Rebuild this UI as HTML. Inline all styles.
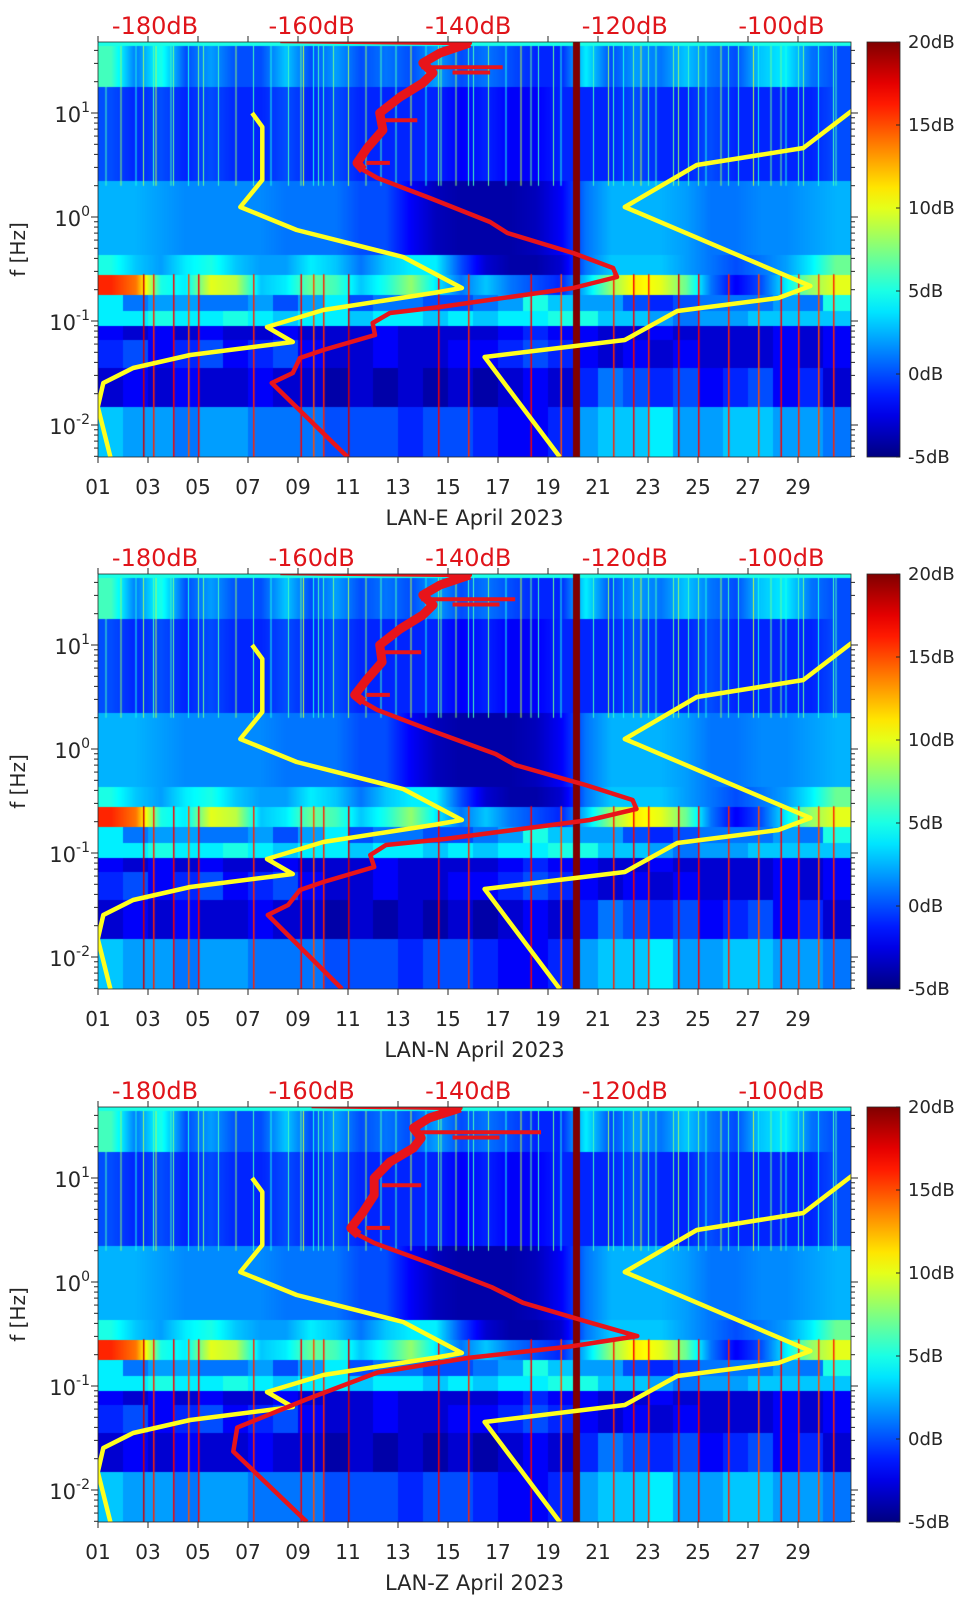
<!DOCTYPE html>
<html>
<head>
<meta charset="utf-8">
<style>
html,body{margin:0;padding:0;background:#fff;}
#root{position:relative;width:962px;height:1599px;overflow:hidden;background:#fff;font-family:"DejaVu Sans","Liberation Sans",sans-serif;}
canvas,svg{position:absolute;display:block;}
</style>
</head>
<body>
<div id="root"></div>
<script>
// ---------- data ----------
const panelTitles = ["LAN-E April 2023", "LAN-N April 2023", "LAN-Z April 2023"];
const dayTickLabels = ["01","03","05","07","09","11","13","15","17","19","21","23","25","27","29"];
const dayTickValues = [1,3,5,7,9,11,13,15,17,19,21,23,25,27,29];
const dbTickValues = [-180,-160,-140,-120,-100];
const dbTickLabels = ["-180dB","-160dB","-140dB","-120dB","-100dB"];
const freqTickExps = [1,0,-1,-2];
const cbTickValues = [20,15,10,5,0,-5];
const cbTickLabels = ["20dB","15dB","10dB","5dB","0dB","-5dB"];

// noise models (dB, log10 f)
const nlnmDb = [-167.6,-166.3,-166.3,-169.1,-161.9,-148.3,-140.8,-144.5,-158.5,-165.7,-162.4,-175.5,-182.8,-186.6,-187.3,-185.7];
const nlnmLf = [1.0,0.865,0.356,0.096,-0.125,-0.385,-0.683,-0.731,-0.894,-1.058,-1.202,-1.327,-1.452,-1.596,-1.827,-2.308];
const nhnmDb = [-128.3,-137.9,-120.0,-113.3,-100.4,-96.3,-120.0,-110.8,-97.2,-91.2,-87.4];
const nhnmLf = [-2.308,-1.346,-1.183,-0.904,-0.779,-0.663,0.096,0.5,0.663,1.01,1.22];

// station PSD curves (dB, log10 f)
const redDbE = [-155.4,-165.1,-162.4,-161.5,-158.5,-151.9,-152.2,-150.0,-143.6,-126.6,-121.0,-121.5,-126.6,-135.0,-137.2,-144.9,-151.6,-153.4,-154.2,-152.9,-150.9,-151.3,-148.7,-145.8,-144.5,-145.8,-143.6,-139.8,-164.0];
const redLfE = [-2.308,-1.596,-1.5,-1.356,-1.279,-1.135,-1.019,-0.923,-0.865,-0.683,-0.577,-0.49,-0.346,-0.154,-0.048,0.183,0.375,0.452,0.519,0.663,0.837,1.0,1.154,1.288,1.385,1.481,1.577,1.673,1.692];
const redDbN = [-156.1,-165.6,-163.0,-161.5,-158.5,-152.0,-152.5,-150.5,-143.0,-124.5,-118.5,-119.0,-125.0,-134.0,-136.5,-144.9,-151.6,-153.4,-154.5,-153.0,-151.0,-151.3,-148.7,-145.8,-144.5,-145.8,-143.6,-139.8,-164.0];
const redLfN = [-2.308,-1.596,-1.5,-1.356,-1.279,-1.135,-1.019,-0.923,-0.865,-0.683,-0.577,-0.49,-0.346,-0.154,-0.048,0.183,0.375,0.452,0.519,0.663,0.837,1.0,1.154,1.288,1.385,1.481,1.577,1.673,1.692];
const redDbZ = [-160.6,-170.0,-169.5,-160.7,-151.6,-140.0,-127.0,-118.4,-124.0,-133.0,-137.0,-145.0,-152.0,-154.0,-155.0,-153.5,-152.0,-152.0,-150.0,-147.0,-146.0,-147.0,-145.0,-141.0,-160.0];
const redLfZ = [-2.308,-1.63,-1.4,-1.13,-0.87,-0.73,-0.62,-0.52,-0.40,-0.2,-0.05,0.183,0.375,0.452,0.519,0.663,0.837,1.0,1.154,1.288,1.385,1.481,1.577,1.673,1.692];
const spikeLf = [1.44,1.39,0.93,0.52];
const spikeDbStart = [-146,-142,-151,-153];
const spikeDbEndE = [-135.6,-137.2,-146.5,-150.0];
const spikeDbEndN = [-134.0,-136.0,-146.0,-150.0];
const spikeDbEndZ = [-130.7,-136.0,-146.0,-150.0];

// spectrogram levels (dB) per day 1..30 for each frequency band group
const lvTop  = [5,5,5,5,5,5,5,5,5,5,5,5,5,5,5,5,5,5,5,5,5,5,5,5,5,5,5,5,5,5];
const lvHfTop= [6,1,5,0,2,0,0,3,0,2,0,1,0,2,0,1,0,-1,-1,4,0,2,1,3,1,0,3,4,1,0];
const lvHf   = [0,-1,0,-1,0,-1,-1,0,-1,0,-1,-1,-1,-1,-2,-1,-2,-2,-1,-1,-1,0,-1,-1,0,-1,-1,-1,-1,0];
const lvMid  = [2.5,2.5,2,1.5,1.5,1.5,1.5,1,1,1,0,0,-2,-3.5,-4,-4,-4,-3.5,-2,1,2.5,2.5,2.5,2,1,1,1.5,1.5,2,2.5];
const lvMs1  = [5,3,2,4,5,3,2,2,4,3,1,3,4,4,0,-3,-4,-4,-3,1,3,3,3,2,1,0,1,2,4,7];
const lvMs2  = [16,14,5,4,10,9,3,4,7,6,3,5,8,4,1,3,1,0,-1,3,8,11,10,7,1,-2,0,4,8,10];
const lvBandA= [4,1,2,2,1,1,2,0,2,4,0,1,1,0,0,1,2,5,3,2,2,0,-1,0,1,1,1,2,1,5];
const lvBandB= [4,4,5,4,4,5,4,3,4,4,3,4,4,3,4,3,4,4,5,5,3,3,2,1,2,2,3,3,3,3];
const lvBandC= [-2,-3,-2,-3,-2,-3,-3,-2,-3,-3,-3,-2,-3,-3,-3,-3,-2,-1,-2,-2,-3,-3,-2,-3,-3,-3,-3,-2,-3,-2];
const lvLf1  = [-1,0,-2,-1,0,-2,-1,0,-2,-3,-3,-2,-3,-3,-2,-2,-1,0,-1,-2,-3,-2,-3,-2,-3,-3,-3,-2,-3,-2];
const lvLf2  = [-3,-2,-3,-2,-3,-3,-2,-3,-3,-4,-3,-4,-3,-4,-3,-4,-3,-2,-3,-1,1,0,-1,0,-2,-1,0,-2,-1,-3];
const lvVlf  = [3,2,2,1,2,2,1,1,1,0,0,0,-1,0,0,-1,-2,-2,-1,2,3,3,4,2,2,3,3,2,2,1];
const bandTopLf = [1.69,1.64,1.25,0.35,-0.37,-0.56,-0.75,-0.9,-1.05,-1.18,-1.45,-1.83];
const bandBotLf = [1.64,1.25,0.35,-0.37,-0.56,-0.75,-0.9,-1.05,-1.18,-1.45,-1.83,-2.32];
const bandLevels = [lvTop,lvHfTop,lvHf,lvMid,lvMs1,lvMs2,lvBandA,lvBandB,lvBandC,lvLf1,lvLf2,lvVlf];
const bandSmooth = [0,1,1,1,1,1,0,0,0,0,0,0];

// transient streaks (day positions, dB)
const hfStreakDays = [1.3,1.9,2.5,3.3,3.9,4.6,5.2,5.8,6.5,7.2,7.9,8.6,9.2,9.8,10.4,11.0,11.7,12.3,12.9,13.5,14.1,14.7,15.3,16.0,16.6,17.3,17.9,18.6,19.2,20.8,21.4,22.0,22.7,23.3,24.0,24.6,25.3,25.9,26.6,27.2,27.9,28.5,29.2,29.8,30.5];
const hfStreakVals = [6,8,5,9,6,5,7,6,8,10,5,6,9,6,7,5,8,6,6,9,5,7,8,6,7,5,9,6,7,6,8,5,9,6,7,6,5,8,6,9,7,5,7,8,6];
const quakeDays = [2.8,3.2,4.0,4.6,5.0,7.2,9.1,9.6,10.0,11.0,14.6,15.8,18.3,19.5,21.6,22.4,23.0,24.2,25.0,26.2,27.4,28.3,29.0,29.8,30.4];
const quakeVals = [18,16,17,15,17,16,17,15,16,18,17,16,17,15,16,17,16,18,17,16,15,17,16,15,16];
const gapDay = 20.0;
const gapVal = 20;

// ---------- layout & scales ----------
const PX0 = 98, PX1 = 851, PY0 = 42, PY1 = 457;
const panelOffsets = [0, 532, 1065];
function xDay(d){ return PX0 + (d - 1) * 25; }
function yLf(lf){ return 217 - 104 * lf; }
function xDb(db){ return 155 + (db + 180) * 7.83; }
function cbY(v){ return PY1 - (v + 5) / 25 * (PY1 - PY0); }
function jet(v){
  let t = (v + 5) / 25; t = Math.max(0, Math.min(1, t));
  const c = x => Math.round(255 * Math.max(0, Math.min(1, x)));
  return "rgb(" + c(1.5 - Math.abs(4*t - 3)) + "," + c(1.5 - Math.abs(4*t - 2)) + "," + c(1.5 - Math.abs(4*t - 1)) + ")";
}
const NS = "http://www.w3.org/2000/svg";
const root = document.getElementById("root");

function levelAt(arr, smooth, day){
  if (!smooth) { const i = Math.max(0, Math.min(29, Math.floor(day - 1))); return arr[i]; }
  let u = day - 1.5; const i0 = Math.max(0, Math.min(29, Math.floor(u))); const i1 = Math.min(29, i0 + 1);
  let f = Math.max(0, Math.min(1, u - Math.floor(u))); if (u < 0) f = 0;
  return arr[i0] * (1 - f) + arr[i1] * f;
}

function drawHeat(off){
  const cv = document.createElement("canvas");
  
  
  const W = PX1 - PX0, H = PY1 - PY0;
  cv.width = W; cv.height = H;
  cv.style.left = PX0 + "px"; cv.style.top = (PY0 + off) + "px";
  cv.style.width = W + "px"; cv.style.height = H + "px";
  const ctx = cv.getContext("2d");
  for (let b = 0; b < bandLevels.length; b++) {
    const y0 = Math.max(0, Math.round(yLf(bandTopLf[b]) - PY0));
    const y1 = Math.min(H, Math.round(yLf(bandBotLf[b]) - PY0));
    for (let px = 0; px < W; px++) {
      const day = 1 + px / 25;
      ctx.fillStyle = jet(levelAt(bandLevels[b], bandSmooth[b], day));
      ctx.fillRect(px, y0, 1, y1 - y0);
    }
  }
  // HF streaks
  const yHfEnd = yLf(0.3) - PY0;
  for (let i = 0; i < hfStreakDays.length; i++) {
    const x = xDay(hfStreakDays[i]) - PX0;
    ctx.fillStyle = jet(hfStreakVals[i]);
    ctx.fillRect(x, 4, 1, yHfEnd - 4);
  }
  // earthquake streaks
  const yQ0 = yLf(-0.55) - PY0;
  for (let i = 0; i < quakeDays.length; i++) {
    const x = xDay(quakeDays[i]) - PX0;
    ctx.fillStyle = jet(quakeVals[i]);
    ctx.fillRect(x, yQ0, 1.5, H - yQ0);
    ctx.fillStyle = jet(quakeVals[i] - 10);
    ctx.fillRect(x, 4, 1, yHfEnd - 4);
  }
  // data gap / artefact band
  ctx.fillStyle = jet(gapVal);
  ctx.fillRect(xDay(gapDay) - PX0, 0, 7, H);
  root.appendChild(cv);
}

function mk(tag, parent){ const e = document.createElementNS(NS, tag); parent.appendChild(e); return e; }
function pts(dbs, lfs){ return dbs.map((d, i) => xDb(d).toFixed(1) + "," + yLf(lfs[i]).toFixed(1)).join(" "); }

function drawPanel(p){
  const off = panelOffsets[p];
  drawHeat(off);
  const svg = document.createElementNS(NS, "svg");
  
  
  svg.setAttribute("width", 962); svg.setAttribute("height", 532);
  svg.style.left = "0px"; svg.style.top = off + "px";
  root.appendChild(svg);
  const defs = mk("defs", svg);
  const cp = mk("clipPath", defs); cp.setAttribute("id", "clip" + p);
  const cr = mk("rect", cp);
  cr.setAttribute("x", PX0); cr.setAttribute("y", PY0); cr.setAttribute("width", PX1 - PX0); cr.setAttribute("height", PY1 - PY0);
  const g = mk("g", svg); g.setAttribute("clip-path", "url(#clip" + p + ")");
  
  

  const nl = mk("polyline", g);
  
  
  nl.setAttribute("points", pts(nlnmDb, nlnmLf));
  nl.setAttribute("fill", "none"); nl.setAttribute("stroke", "#ffff1e"); nl.setAttribute("stroke-width", "4.5"); nl.setAttribute("stroke-linejoin", "round");
  const nh = mk("polyline", g);
  
  
  nh.setAttribute("points", pts(nhnmDb, nhnmLf));
  nh.setAttribute("fill", "none"); nh.setAttribute("stroke", "#ffff1e"); nh.setAttribute("stroke-width", "4.5"); nh.setAttribute("stroke-linejoin", "round");

  const rdb = [redDbE, redDbN, redDbZ][p], rlf = [redLfE, redLfN, redLfZ][p];
  const sEnd = [spikeDbEndE, spikeDbEndN, spikeDbEndZ][p];
  const rc = mk("polyline", g);
  
  
  rc.setAttribute("points", pts(rdb, rlf));
  rc.setAttribute("fill", "none"); rc.setAttribute("stroke", "#e8141a"); rc.setAttribute("stroke-width", "4.5"); rc.setAttribute("stroke-linejoin", "round");
  const hiDb = [], hiLf = [];
  for (let i = 0; i < rdb.length - 1; i++) { if (rlf[i] >= 0.45) { hiDb.push(rdb[i]); hiLf.push(rlf[i]); } }
  const rh = mk("polyline", g);
  
  
  rh.setAttribute("points", pts(hiDb, hiLf));
  rh.setAttribute("fill", "none"); rh.setAttribute("stroke", "#e8141a"); rh.setAttribute("stroke-width", "9"); rh.setAttribute("stroke-linejoin", "round");
  for (let i = 0; i < spikeLf.length; i++) {
    const s = mk("line", g);
    
    
    s.setAttribute("x1", xDb(spikeDbStart[i])); s.setAttribute("x2", xDb(sEnd[i]));
    s.setAttribute("y1", yLf(spikeLf[i])); s.setAttribute("y2", yLf(spikeLf[i]));
    s.setAttribute("stroke", "#e8141a"); s.setAttribute("stroke-width", "4");
  }

  // axes box
  const box = mk("rect", svg);
  
  
  box.setAttribute("x", PX0); box.setAttribute("y", PY0); box.setAttribute("width", PX1 - PX0); box.setAttribute("height", PY1 - PY0);
  box.setAttribute("fill", "none"); box.setAttribute("stroke", "#262626"); box.setAttribute("stroke-width", "0.8");

  // x ticks + labels
  for (let i = 0; i < dayTickValues.length; i++) {
    const x = xDay(dayTickValues[i]);
    const tb = mk("line", svg);
    
    
    tb.setAttribute("x1", x); tb.setAttribute("x2", x); tb.setAttribute("y1", PY1); tb.setAttribute("y2", PY1 + 6);
    tb.setAttribute("stroke", "#262626"); tb.setAttribute("stroke-width", "1");
    const tt = mk("line", svg);
    
    
    tt.setAttribute("x1", x); tt.setAttribute("x2", x); tt.setAttribute("y1", PY0); tt.setAttribute("y2", PY0 - 6);
    tt.setAttribute("stroke", "#262626"); tt.setAttribute("stroke-width", "1");
    const tl = mk("text", svg);
    
    
    tl.setAttribute("x", x); tl.setAttribute("y", 494); tl.setAttribute("text-anchor", "middle");
    tl.setAttribute("font-size", "20"); tl.setAttribute("fill", "#262626");
    tl.textContent = dayTickLabels[i];
  }
  const xl = mk("text", svg);
  
  
  xl.setAttribute("x", (PX0 + PX1) / 2); xl.setAttribute("y", 525); xl.setAttribute("text-anchor", "middle");
  xl.setAttribute("font-size", "21"); xl.setAttribute("fill", "#262626");
  xl.textContent = panelTitles[p];

  // dB labels on top
  for (let i = 0; i < dbTickValues.length; i++) {
    const t = mk("text", svg);
    
    
    t.setAttribute("x", xDb(dbTickValues[i])); t.setAttribute("y", 34); t.setAttribute("text-anchor", "middle");
    t.setAttribute("font-size", "24"); t.setAttribute("fill", "#e0141a");
    t.textContent = dbTickLabels[i];
  }

  // y ticks (major + minor, both sides)
  for (let e = -3; e <= 1; e++) {
    for (let m = 1; m <= 9; m++) {
      const lf = e + Math.log10(m);
      const y = yLf(lf);
      if (y < PY0 - 0.5 || y > PY1 + 0.5) continue;
      const len = m === 1 ? 7 : 4;
      const tl = mk("line", svg);
      
      
      tl.setAttribute("x1", PX0 - len); tl.setAttribute("x2", PX0); tl.setAttribute("y1", y); tl.setAttribute("y2", y);
      tl.setAttribute("stroke", "#262626"); tl.setAttribute("stroke-width", "1");
      const tr = mk("line", svg);
      
      
      tr.setAttribute("x1", PX1); tr.setAttribute("x2", PX1 + len); tr.setAttribute("y1", y); tr.setAttribute("y2", y);
      tr.setAttribute("stroke", "#262626"); tr.setAttribute("stroke-width", "1");
    }
  }
  for (let i = 0; i < freqTickExps.length; i++) {
    const t = mk("text", svg);
    
    
    t.setAttribute("x", 90); t.setAttribute("y", yLf(freqTickExps[i]) + 9); t.setAttribute("text-anchor", "end");
    t.setAttribute("font-size", "21"); t.setAttribute("fill", "#262626");
    const b = mk("tspan", t); b.textContent = "10";
    const s = mk("tspan", t); s.setAttribute("font-size", "14"); s.setAttribute("dy", "-10"); s.textContent = String(freqTickExps[i]);
  }
  const yl = mk("text", svg);
  
  
  yl.setAttribute("transform", "translate(25," + ((PY0 + PY1) / 2) + ") rotate(-90)");
  yl.setAttribute("text-anchor", "middle"); yl.setAttribute("font-size", "20"); yl.setAttribute("fill", "#262626");
  yl.textContent = "f [Hz]";

  // colorbar
  const cbx = 867, cbw = 33;
  const lg = mk("linearGradient", defs); lg.setAttribute("id", "jet" + p);
  lg.setAttribute("x1", "0"); lg.setAttribute("y1", "1"); lg.setAttribute("x2", "0"); lg.setAttribute("y2", "0");
  for (let k = 0; k <= 20; k++) {
    const st = mk("stop", lg);
    st.setAttribute("offset", (k / 20).toFixed(3));
    st.setAttribute("stop-color", jet(-5 + 25 * k / 20));
  }
  const cb = mk("rect", svg);
  
  
  cb.setAttribute("x", cbx); cb.setAttribute("y", PY0); cb.setAttribute("width", cbw); cb.setAttribute("height", PY1 - PY0);
  cb.setAttribute("fill", "url(#jet" + p + ")"); cb.setAttribute("stroke", "#262626"); cb.setAttribute("stroke-width", "0.8");
  for (let i = 0; i < cbTickValues.length; i++) {
    const y = cbY(cbTickValues[i]);
    const tk = mk("line", svg);
    
    
    tk.setAttribute("x1", cbx + cbw - 4); tk.setAttribute("x2", cbx + cbw); tk.setAttribute("y1", y); tk.setAttribute("y2", y);
    tk.setAttribute("stroke", "#262626"); tk.setAttribute("stroke-width", "1");
    const t = mk("text", svg);
    
    
    t.setAttribute("x", 908); t.setAttribute("y", y + 6); t.setAttribute("font-size", "18"); t.setAttribute("fill", "#262626");
    t.textContent = cbTickLabels[i];
  }
}
for (let p = 0; p < 3; p++) drawPanel(p);
</script>
</body>
</html>
